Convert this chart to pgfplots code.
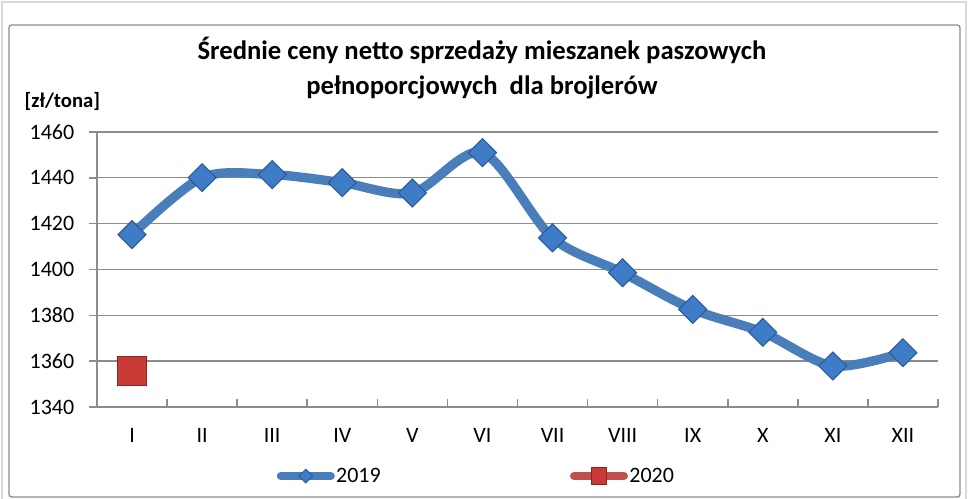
\documentclass[border=0pt]{standalone}
\usepackage{fontspec}
\setmainfont{Carlito}
\usepackage{pgfplots}
\pgfplotsset{compat=1.18}

\definecolor{lineblue}{HTML}{4A7EBB}
\definecolor{markblue}{HTML}{3F7CC8}
\definecolor{markedge}{HTML}{2A5A96}
\definecolor{linered}{HTML}{C0504D}
\definecolor{markred}{HTML}{C83A36}
\definecolor{rededge}{HTML}{8E2220}
\definecolor{gridgray}{HTML}{8C8C8C}
\newdimen\px \px=0.75pt

\begin{document}
\begin{tikzpicture}[x=\px,y=\px]
% picture is 968 x 499 px, axis origin at (97,407) px from top-left
\path[use as bounding box] (-97,-92) rectangle (871,407);
\draw[black!15, line width=1pt] (-95,-92) -- (-95,405) -- (869,405) -- (869,-92);
\draw[gridgray, line width=1pt, rounded corners=2pt] (-88,-90) rectangle (863,382);

\begin{axis}[
  at={(0,0)}, anchor=south west,
  scale only axis,
  width=841\px, height=275\px,
  xmin=0.5, xmax=12.5,
  ymin=1340, ymax=1460,
  ytick={1340,1360,1380,1400,1420,1440,1460},
  /pgf/number format/1000 sep={},
  /pgf/number format/assume math mode=true,
  xtick={0.5,1.5,...,12.5},
  xticklabels={},
  extra x ticks={1,2,3,4,5,6,7,8,9,10,11,12},
  extra x tick labels={I,II,III,IV,V,VI,VII,VIII,IX,X,XI,XII},
  extra x tick style={major tick length=0pt},
  xtick align=inside, ytick align=outside,
  major tick length=8\px,
  tick style={gridgray, line width=1.2pt},
  axis lines*=left,
  axis line style={gridgray, line width=1.4pt, -},
  ymajorgrids,
  grid style={gridgray, line width=1pt},
  tick label style={font=\fontsize{16.5}{19}\selectfont, black},
  xticklabel style={yshift=-17\px},
  yticklabel style={xshift=-10\px},
  legend style={at={(0.4507,-0.251)}, anchor=center, draw=none, fill=none,
    legend columns=2, font=\fontsize{16.5}{19}\selectfont,
    /tikz/every even column/.append style={column sep=188\px},
    nodes={inner sep=1pt}},
  legend cell align=left,
]
\addplot[lineblue, line width=7pt, smooth,
  mark=square*, mark size=7.4pt,
  mark options={rotate=45, fill=markblue, draw=markedge, line width=0.8pt, solid},
  legend image code/.code={
    \draw[lineblue, line width=6pt, line cap=round] (0pt,0pt) -- (37.5pt,0pt);
    \draw[fill=markblue, draw=markedge, line width=0.6pt]
      (18.75pt,5.2pt) -- (24pt,0pt) -- (18.75pt,-5.2pt) -- (13.5pt,0pt) -- cycle;
  }]
coordinates {
  (1,1415.2) (2,1440.1) (3,1441.4) (4,1437.9) (5,1433.4) (6,1451.0)
  (7,1413.8) (8,1398.6) (9,1382.6) (10,1372.6) (11,1357.9) (12,1363.7)
};
\addlegendentry{2019}
\addplot[linered, line width=7pt,
  mark=square*, mark size=10.9pt,
  mark options={fill=markred, draw=rededge, line width=0.8pt, solid},
  legend image code/.code={
    \draw[linered, line width=6pt, line cap=round] (0pt,0pt) -- (37.5pt,0pt);
    \draw[fill=markred, draw=rededge, line width=0.6pt]
      (13pt,-6.2pt) rectangle (24.5pt,6.2pt);
  }]
coordinates {(1,1355.7)};
\addlegendentry{2020}
\end{axis}

\node[font=\bfseries\fontsize{20}{24}\selectfont, align=center] at (385,357)
  {Średnie ceny netto sprzedaży mieszanek paszowych};
\node[font=\bfseries\fontsize{20}{24}\selectfont, align=center] at (385,320)
  {pełnoporcjowych\ \ dla brojlerów};
\node[font=\bfseries\fontsize{15.5}{18}\selectfont, anchor=west] at (-77,306) {[zł/tona]};
\end{tikzpicture}
\end{document}
